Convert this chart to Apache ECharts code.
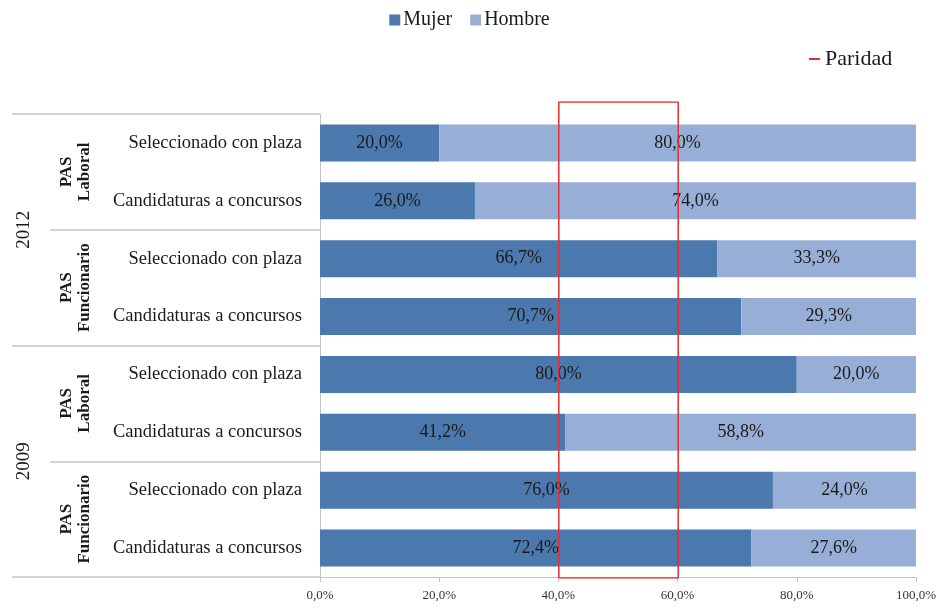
<!DOCTYPE html>
<html><head><meta charset="utf-8">
<script src="https://cdn.jsdelivr.net/npm/echarts@6/dist/echarts.min.js"></script>
<style>html,body{margin:0;padding:0;background:#fff}#c{width:939px;height:610px}</style>
</head><body><div id="c"></div>
<script>
const categories = ['Seleccionado con plaza','Candidaturas a concursos','Seleccionado con plaza','Candidaturas a concursos','Seleccionado con plaza','Candidaturas a concursos','Seleccionado con plaza','Candidaturas a concursos'];
const groups = ['PAS\nLaboral','PAS\nFuncionario','PAS\nLaboral','PAS\nFuncionario'];
const years = ['2012','2009'];
const mujer = [20.0, 26.0, 66.7, 70.7, 80.0, 41.2, 76.0, 72.4];
const hombre = [80.0, 74.0, 33.3, 29.3, 20.0, 58.8, 24.0, 27.6];
const paridadMin = 40, paridadMax = 60;
const xTicks = [0, 20, 40, 60, 80, 100];

const serif = '"Liberation Serif","DejaVu Serif",serif';
const fmt = v => v.toFixed(1).replace('.', ',') + '%';
const chart = echarts.init(document.getElementById('c'));
const gridLine = '#c4c4c4';
chart.setOption({
  animation: false,
  legend: [
    {data: ['Mujer','Hombre'], top: 5, left: 'center', icon: 'rect', itemWidth: 11, itemHeight: 11, itemGap: 18, itemStyle: {borderWidth: 0},
     textStyle: {fontFamily: serif, fontSize: 20, color: '#1a1a1a', padding: [0,0,0,-2]}},
    {data: ['Paridad'], top: 43, left: 804, icon: 'rect', itemWidth: 11, itemHeight: 2,
     textStyle: {fontFamily: serif, fontSize: 22, color: '#1a1a1a'}}
  ],
  grid: [
    {left: 320, right: 22, top: 114, bottom: 33},
    {left: 320, right: 22, top: 102, bottom: 32}
  ],
  xAxis: [
    {type: 'value', gridIndex: 0, min: xTicks[0], max: xTicks[xTicks.length-1], interval: 20,
     axisLine: {show: true, lineStyle: {color: gridLine}},
     axisTick: {show: true, length: 5, lineStyle: {color: gridLine}},
     splitLine: {show: false},
     axisLabel: {formatter: v => fmt(v), fontFamily: serif, fontSize: 13, color: '#333', margin: 12}},
    {type: 'value', gridIndex: 1, min: 0, max: 100, show: false}
  ],
  yAxis: [
    {type: 'category', gridIndex: 0, data: categories, inverse: true,
     axisLine: {show: true, lineStyle: {color: gridLine}},
     axisTick: {show: false},
     axisLabel: {fontFamily: serif, fontSize: 18.5, color: '#1a1a1a', margin: 18}},
    {type: 'category', gridIndex: 0, data: groups, inverse: true, position: 'left',
     axisLine: {show: false},
     axisTick: {show: true, length: 270, lineStyle: {color: gridLine, width: 1.5}},
     axisLabel: {rotate: 90, fontFamily: serif, fontSize: 17, fontWeight: 'bold', lineHeight: 18, color: '#1a1a1a', margin: 226}},
    {type: 'category', gridIndex: 0, data: years, inverse: true, position: 'left',
     axisLine: {show: false},
     axisTick: {show: true, length: 308, lineStyle: {color: gridLine, width: 1.5}},
     axisLabel: {rotate: 90, fontFamily: serif, fontSize: 19, color: '#1a1a1a', margin: 286}},
    {type: 'value', gridIndex: 1, min: 0, max: 1, show: false}
  ],
  series: [
    {name: 'Mujer', type: 'bar', stack: 'a', xAxisIndex: 0, yAxisIndex: 0, data: mujer, barWidth: '64%',
     itemStyle: {color: '#4b79ae'},
     label: {show: true, position: 'inside', formatter: p => fmt(p.value), fontFamily: serif, fontSize: 18, color: '#1a1a1a'}},
    {name: 'Hombre', type: 'bar', stack: 'a', xAxisIndex: 0, yAxisIndex: 0, data: hombre, barWidth: '64%',
     itemStyle: {color: '#97afd6'},
     label: {show: true, position: 'inside', formatter: p => fmt(p.value), fontFamily: serif, fontSize: 18, color: '#1a1a1a'}},
    {name: 'Paridad', type: 'line', xAxisIndex: 1, yAxisIndex: 3, symbol: 'none', z: 10,
     color: '#e03030',
     lineStyle: {color: '#e03030', width: 1.5},
     data: [[paridadMin,0],[paridadMin,1],[paridadMax,1],[paridadMax,0],[paridadMin,0]]}
  ]
});
</script></body></html>
